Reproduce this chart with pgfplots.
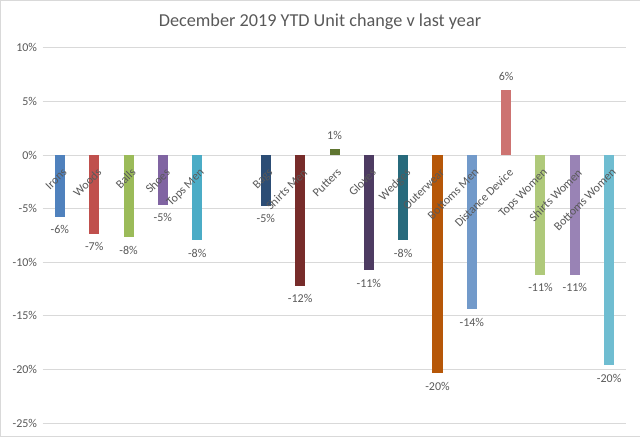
\documentclass[border=0pt]{standalone}
\usepackage{fontspec}
\setmainfont{Carlito}
\usepackage{pgfplots}
\pgfplotsset{compat=1.18}
\definecolor{txt}{HTML}{595959}
\definecolor{grd}{HTML}{D9D9D9}
\definecolor{c1}{HTML}{4F81BD}
\definecolor{c2}{HTML}{C0504D}
\definecolor{c3}{HTML}{9BBB59}
\definecolor{c4}{HTML}{8064A2}
\definecolor{c5}{HTML}{4BACC6}
\definecolor{c6}{HTML}{2C4D75}
\definecolor{c7}{HTML}{772C2A}
\definecolor{c8}{HTML}{5F7530}
\definecolor{c9}{HTML}{4D3B62}
\definecolor{c10}{HTML}{276A7C}
\definecolor{c11}{HTML}{B65708}
\definecolor{c12}{HTML}{729ACA}
\definecolor{c13}{HTML}{CD7371}
\definecolor{c14}{HTML}{AFC97A}
\definecolor{c15}{HTML}{9983B5}
\definecolor{c16}{HTML}{6FBDD1}
\begin{document}
\begin{tikzpicture}[x=1pt,y=1pt]
\draw[grd, fill=white] (0.5,0.5) rectangle (639.5,436.5);
\node[text=txt, font=\fontsize{18.2}{22}\selectfont] at (320,415) {December 2019 YTD Unit change v last year};
\begin{axis}[
    at={(43pt,14pt)}, anchor=south west,
    scale only axis, width=583pt, height=375pt,
    xmin=-0.5, xmax=16.5, ymin=-25, ymax=10,
    ybar, bar width=10pt,
    axis x line=middle, axis y line=left,
    axis line style={draw=none}, tick style={draw=none},
    ymajorgrids, major grid style={grd, line width=0.75pt},
    ytick={-25,-20,...,10},
    /pgf/number format/assume math mode=true,
    yticklabel={\pgfmathprintnumber{\tick}\%},
    yticklabel style={text=txt, font=\fontsize{12}{14}\selectfont},
    xtick=\empty,
    nodes near coords={\pgfmathprintnumber[fixed,precision=0]{\pgfplotspointmeta}\%},
    every node near coord/.append style={text=txt, font=\fontsize{12}{14}\selectfont, inner sep=8.5pt},
    every axis plot/.append style={bar shift=0pt, draw=none},
    % category names set over the bars, as in the original
    after end axis/.code={
      \foreach \x/\name in {0/Irons,1/Woods,2/Balls,3/Shoes,4/Tops Men,6/Bags,7/Shirts Men,8/Putters,9/Gloves,10/Wedges,11/Outerwear,12/Bottoms Men,13/Distance Device,14/Tops Women,15/Shirts Women,16/Bottoms Women}
        \node[xshift=2pt, yshift=-11pt, text=txt, font=\fontsize{12}{14}\selectfont, rotate=45, anchor=north east, inner sep=1pt] at (axis cs:\x,0) {\name};
    },
]
\addplot[fill=c1, bar shift=0pt]  coordinates {(0,-5.74)};
\addplot[fill=c2, bar shift=0pt]  coordinates {(1,-7.35)};
\addplot[fill=c3, bar shift=0pt]  coordinates {(2,-7.66)};
\addplot[fill=c4, bar shift=0pt]  coordinates {(3,-4.65)};
\addplot[fill=c5, bar shift=0pt]  coordinates {(4,-7.97)};
\addplot[fill=c6, bar shift=0pt]  coordinates {(6,-4.74)};
\addplot[fill=c7, bar shift=0pt]  coordinates {(7,-12.2)};
\addplot[fill=c8, bar shift=0pt]  coordinates {(8,0.58)};
\addplot[fill=c9, bar shift=0pt]  coordinates {(9,-10.77)};
\addplot[fill=c10, bar shift=0pt] coordinates {(10,-7.97)};
\addplot[fill=c11, bar shift=0pt] coordinates {(11,-20.35)};
\addplot[fill=c12, bar shift=0pt] coordinates {(12,-14.38)};
\addplot[fill=c13, bar shift=0pt] coordinates {(13,6.08)};
\addplot[fill=c14, bar shift=0pt] coordinates {(14,-11.18)};
\addplot[fill=c15, bar shift=0pt] coordinates {(15,-11.18)};
\addplot[fill=c16, bar shift=0pt] coordinates {(16,-19.6)};
\end{axis}
\end{tikzpicture}
\end{document}
